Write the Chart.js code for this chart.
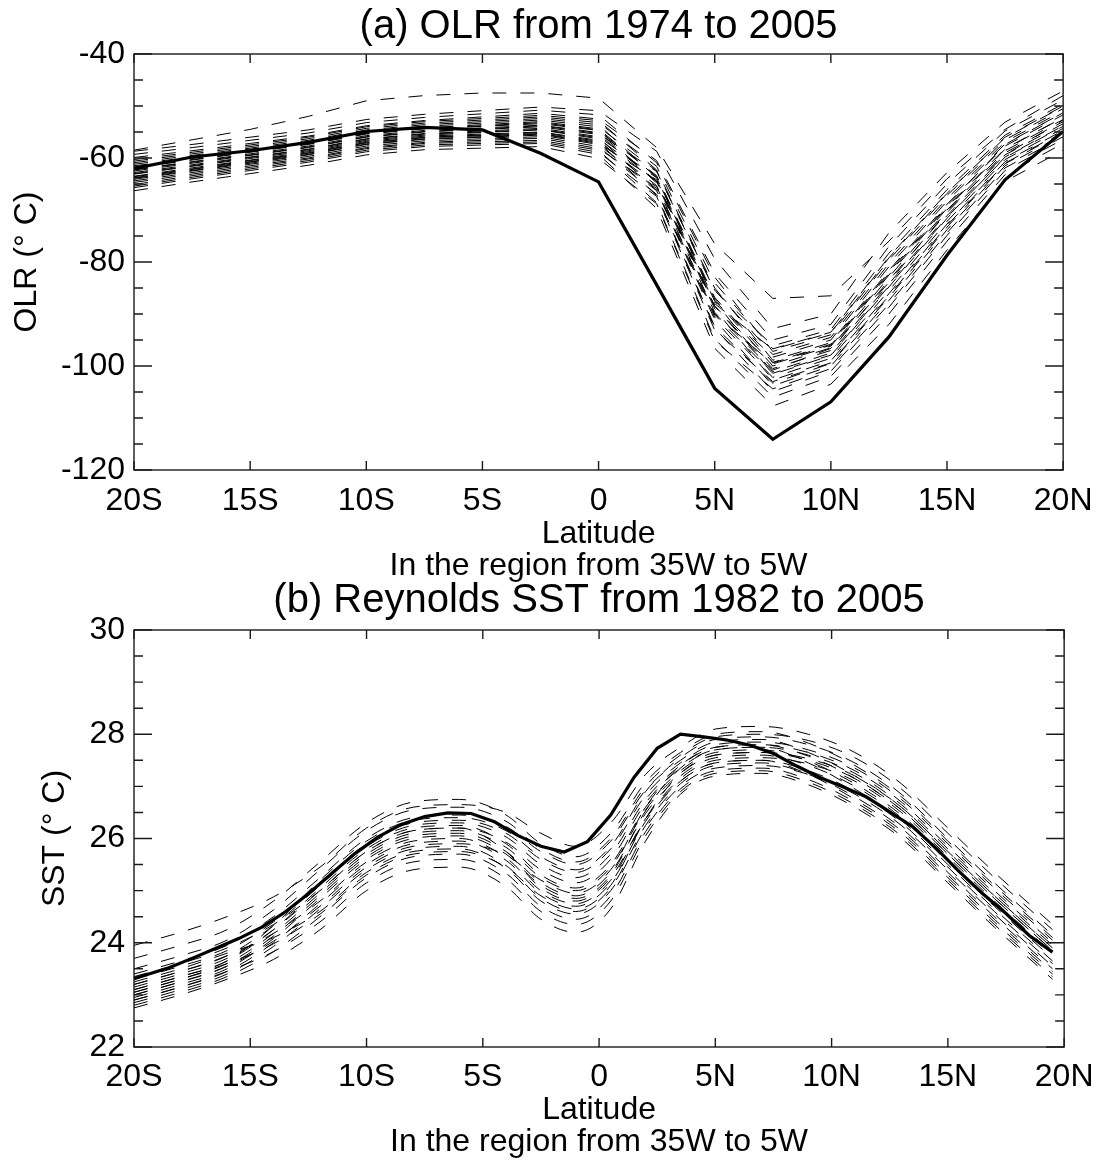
<!DOCTYPE html>
<html>
<head>
<meta charset="utf-8">
<script src="https://cdn.jsdelivr.net/npm/chart.js@4.4.1/dist/chart.umd.min.js"></script>
<style>
  html, body { margin: 0; padding: 0; background: #fff; }
  #wrap { position: relative; width: 1104px; height: 1162px; }
  canvas { position: absolute; left: 0; }
  #olrCanvas { top: 0; }
  #sstCanvas { top: 577px; }
</style>
</head>
<body>
<div id="wrap">
  <canvas id="olrCanvas" width="1104" height="582"></canvas>
  <canvas id="sstCanvas" width="1104" height="585"></canvas>
</div>
<script>
// latitude axis, shared by both panels
const xTickValues = [-20, -15, -10, -5, 0, 5, 10, 15, 20];
const xTickLabels = ['20S', '15S', '10S', '5S', '0', '5N', '10N', '15N', '20N'];

// (a) OLR, 2.5 degree grid
const olrLat = [-20, -17.5, -15, -12.5, -10, -7.5, -5, -2.5, 0, 2.5, 5, 7.5, 10, 12.5, 15, 17.5, 20];
const olrTicks = [-120, -100, -80, -60, -40];
// thick line
const olrMean = [-62.0, -59.8, -58.6, -57.0, -54.9, -54.1, -54.6, -59.1, -64.6, -84.4, -104.3, -114.1, -106.9, -94.4, -78.7, -64.2, -54.9];
// dashed lines, one per year
const olrYearly = [
  [-58.5,-56.5,-54.5,-52.0,-49.0,-48.0,-47.5,-47.5,-48.5,-58.0,-76.5,-87.0,-86.5,-76.0,-64.0,-54.5,-48.0],
  [-58.7,-57.4,-56.0,-54.6,-52.6,-51.6,-50.9,-50.2,-50.9,-58.7,-79.4,-92.8,-90.0,-74.4,-62.8,-53.1,-47.1],
  [-59.3,-58.0,-56.6,-55.2,-53.2,-52.2,-51.5,-50.8,-51.7,-60.9,-82.9,-97.2,-94.0,-79.6,-67.2,-56.5,-50.5],
  [-59.9,-58.6,-57.2,-55.8,-53.8,-52.8,-52.1,-51.4,-52.5,-60.5,-82.2,-95.0,-92.0,-77.0,-65.0,-54.8,-48.8],
  [-60.3,-58.9,-57.5,-56.0,-54.0,-53.0,-52.4,-51.8,-52.8,-62.3,-85.0,-98.9,-95.5,-81.6,-68.9,-57.7,-51.7],
  [-60.6,-59.2,-57.8,-56.3,-54.3,-53.3,-52.7,-52.1,-53.2,-61.6,-84.0,-96.7,-93.5,-79.0,-66.7,-56.1,-50.1],
  [-60.9,-59.5,-58.1,-56.6,-54.6,-53.6,-53.0,-52.4,-53.6,-63.8,-87.5,-101.6,-98.0,-84.8,-71.6,-59.8,-53.8],
  [-61.2,-59.8,-58.3,-56.9,-54.9,-53.9,-53.3,-52.7,-54.0,-62.5,-85.4,-97.8,-94.5,-80.3,-67.8,-56.9,-50.9],
  [-61.5,-60.1,-58.6,-57.2,-55.2,-54.2,-53.6,-53.0,-54.4,-63.6,-87.1,-100.0,-96.5,-82.9,-70.0,-58.6,-52.6],
  [-61.7,-60.3,-58.8,-57.3,-55.3,-54.3,-53.8,-53.2,-54.6,-64.8,-89.0,-102.7,-99.0,-86.1,-72.7,-60.7,-54.7],
  [-61.9,-60.4,-58.9,-57.4,-55.4,-54.4,-53.9,-53.4,-54.7,-63.4,-86.8,-99.3,-95.8,-81.9,-69.2,-57.4,-51.3],
  [-62.2,-60.7,-59.2,-57.7,-55.7,-54.7,-54.2,-53.7,-55.1,-64.5,-88.5,-101.1,-97.5,-84.2,-71.1,-59.4,-53.4],
  [-62.3,-60.8,-59.4,-57.9,-55.9,-54.9,-54.4,-53.8,-55.3,-62.6,-85.5,-96.1,-93.0,-78.3,-66.1,-55.6,-49.6],
  [-62.5,-61.0,-59.5,-58.0,-56.0,-55.0,-54.5,-54.0,-55.5,-64.5,-88.5,-100.5,-97.0,-83.5,-70.5,-59.0,-53.0],
  [-62.8,-61.3,-59.8,-58.3,-56.3,-55.3,-54.8,-54.3,-55.9,-63.8,-87.5,-98.3,-95.0,-80.9,-68.3,-57.3,-51.3],
  [-63.0,-61.5,-59.9,-58.4,-56.4,-55.4,-55.0,-54.5,-56.1,-66.2,-91.1,-103.8,-100.0,-87.4,-73.8,-61.5,-55.5],
  [-63.1,-61.6,-60.1,-58.6,-56.6,-55.6,-55.1,-54.6,-56.3,-64.5,-88.5,-99.4,-96.0,-82.2,-69.4,-58.2,-52.2],
  [-63.5,-61.9,-60.4,-58.8,-56.8,-55.8,-55.4,-55.0,-56.6,-65.9,-90.6,-102.2,-98.5,-85.5,-72.2,-60.3,-54.3],
  [-63.6,-62.1,-60.5,-59.0,-57.0,-56.0,-55.6,-55.1,-56.8,-65.3,-89.7,-100.8,-96.6,-83.9,-70.2,-59.4,-52.7],
  [-63.8,-62.2,-60.7,-59.1,-57.1,-56.1,-55.7,-55.3,-57.0,-67.2,-92.7,-104.9,-101.0,-88.7,-74.9,-62.4,-56.4],
  [-64.1,-62.5,-61.0,-59.4,-57.4,-56.4,-56.0,-55.6,-57.4,-66.3,-90.2,-101.4,-97.9,-84.6,-71.4,-59.9,-53.9],
  [-64.4,-62.8,-61.2,-59.7,-57.7,-56.7,-56.3,-55.9,-57.8,-67.0,-92.4,-103.3,-99.5,-86.8,-73.3,-61.1,-55.1],
  [-64.7,-63.1,-61.5,-60.0,-58.0,-57.0,-56.6,-56.2,-58.2,-65.5,-90.0,-99.6,-96.2,-82.5,-69.7,-58.3,-52.2],
  [-65.1,-63.4,-61.8,-60.2,-58.2,-57.2,-56.9,-56.6,-58.5,-68.6,-94.8,-106.0,-102.0,-90.0,-76.0,-63.2,-57.2],
  [-65.4,-63.7,-62.1,-60.5,-58.5,-57.5,-57.2,-56.9,-58.9,-67.4,-93.1,-103.0,-99.4,-86.5,-73.0,-61.0,-54.9],
  [-65.7,-64.0,-62.4,-60.8,-58.8,-57.8,-57.5,-57.2,-59.3,-69.7,-96.6,-107.7,-103.5,-92.0,-77.7,-64.5,-58.5],
  [-66.3,-64.6,-63.0,-61.4,-59.4,-58.4,-58.1,-57.8,-60.1,-68.8,-95.2,-104.4,-100.5,-88.1,-74.4,-61.9,-55.9],
  [-63.9,-62.4,-60.8,-59.3,-57.3,-56.3,-55.9,-55.4,-57.2,-64.2,-88.0,-96.8,-93.6,-79.2,-66.8,-56.0,-50.0]
];

// (b) Reynolds SST
const sstTicks = [22, 24, 26, 28, 30];
const sstLat = [-20, -19.5, -18.5, -17.5, -16.5, -15.5, -14.5, -13.5, -12.5, -11.5, -10.5, -9.5, -8.5, -7.5, -6.5, -5.5, -4.5, -3.5, -2.5, -1.5, -0.5,
  0.5, 1.5, 2.5, 3.5, 4.5, 5.5, 6.5, 7.5, 8.5, 9.5, 10.5, 11.5, 12.5, 13.5, 14.5, 15.5, 16.5, 17.5, 18.5, 19.5];
const sstMean = [23.31, 23.38, 23.52, 23.70, 23.89, 24.08, 24.30, 24.59, 24.94, 25.33, 25.71, 26.03, 26.27, 26.42, 26.49, 26.48, 26.32, 26.06, 25.85, 25.74, 25.94,
  26.45, 27.17, 27.73, 28.00, 27.95, 27.89, 27.79, 27.63, 27.39, 27.17, 26.99, 26.80, 26.51, 26.22, 25.81, 25.36, 24.94, 24.56, 24.14, 23.82];
const sstYearLat = [-20, -18, -16, -14, -12, -10, -8, -6, -4, -2.5, -1, 0.5, 2, 3.5, 5, 7, 9, 11, 13, 15, 17, 19.5];
const sstYearly = [
  [23.95,24.2,24.5,24.88,25.45,26.2,26.6,26.65,26.5,26.1,25.85,26.3,27.23,27.75,28.1,28.15,28.0,27.65,27.05,26.2,25.35,24.35],
  [23.7,23.95,24.25,24.8,25.55,26.3,26.7,26.75,26.45,25.9,25.65,26.1,27.08,27.65,28.0,28.05,27.83,27.4,26.8,25.95,25.1,24.1],
  [23.5,23.75,24.05,24.63,25.4,26.15,26.55,26.6,26.33,25.8,25.55,26.0,27.0,27.6,27.95,28.0,27.88,27.55,26.95,26.1,25.25,24.25],
  [23.4,23.65,23.95,24.5,25.25,26.0,26.4,26.45,26.23,25.75,25.5,25.95,26.93,27.5,27.85,27.9,27.65,27.2,26.6,25.75,24.9,23.9],
  [23.3,23.55,23.85,24.4,25.15,25.9,26.3,26.35,26.1,25.6,25.35,25.8,26.83,27.45,27.8,27.85,27.7,27.35,26.75,25.9,25.05,24.05],
  [23.2,23.45,23.75,24.33,25.1,25.85,26.25,26.3,26.03,25.5,25.25,25.7,26.75,27.4,27.75,27.8,27.58,27.15,26.55,25.7,24.85,23.85],
  [23.15,23.4,23.7,24.25,25.0,25.75,26.15,26.2,25.93,25.4,25.15,25.6,26.68,27.35,27.7,27.75,27.6,27.25,26.65,25.8,24.95,23.95],
  [23.1,23.35,23.65,24.25,25.05,25.8,26.2,26.25,25.9,25.3,25.05,25.5,26.6,27.3,27.65,27.7,27.48,27.05,26.45,25.6,24.75,23.75],
  [23.05,23.3,23.6,24.18,24.95,25.7,26.1,26.15,25.83,25.25,25.0,25.45,26.55,27.25,27.6,27.65,27.53,27.2,26.6,25.75,24.9,23.9],
  [23.0,23.25,23.55,24.13,24.9,25.65,26.05,26.1,25.75,25.15,24.9,25.35,26.48,27.2,27.55,27.6,27.4,27.0,26.4,25.55,24.7,23.7],
  [22.95,23.2,23.5,24.08,24.85,25.6,26.0,26.05,25.7,25.1,24.85,25.3,26.53,27.35,27.7,27.75,27.45,26.95,26.35,25.5,24.65,23.65],
  [23.2,23.45,23.75,24.18,24.8,25.55,25.95,26.0,25.63,25.0,24.75,25.2,26.38,27.15,27.5,27.55,27.43,27.1,26.5,25.65,24.8,23.8],
  [22.9,23.15,23.45,24.0,24.75,25.5,25.9,25.95,25.58,24.95,24.7,25.15,26.33,27.1,27.45,27.5,27.3,26.9,26.3,25.45,24.6,23.6],
  [22.85,23.1,23.4,23.93,24.65,25.4,25.8,25.85,25.48,24.85,24.6,25.05,26.25,27.05,27.4,27.45,27.23,26.8,26.2,25.35,24.5,23.5],
  [23.25,23.5,23.8,24.1,24.6,25.35,25.75,25.8,25.43,24.8,24.55,25.0,26.2,27.0,27.35,27.4,27.23,26.85,26.25,25.4,24.55,23.55],
  [22.8,23.05,23.35,23.83,24.5,25.25,25.65,25.7,25.33,24.7,24.45,24.9,26.13,26.95,27.3,27.35,27.13,26.7,26.1,25.25,24.4,23.4],
  [22.9,23.15,23.45,23.83,24.4,25.15,25.55,25.6,25.23,24.6,24.35,24.8,26.05,26.9,27.25,27.3,27.08,26.65,26.05,25.2,24.35,23.35],
  [22.75,23.0,23.3,23.68,24.25,25.0,25.4,25.45,25.08,24.45,24.2,24.65,25.95,26.85,27.2,27.25,27.03,26.6,26.0,25.15,24.3,23.3],
  [23.1,23.35,23.65,24.33,25.2,25.95,26.35,26.4,26.15,25.65,25.4,25.85,26.9,27.55,27.9,27.95,27.8,27.45,26.85,26.0,25.15,24.15],
  [23.0,23.25,23.55,24.03,24.7,25.45,25.85,25.9,25.68,25.2,24.95,25.4,26.6,27.4,27.75,27.8,27.65,27.3,26.7,25.85,25.0,24.0],
  [23.35,23.6,23.9,24.35,25.0,25.75,26.15,26.2,25.75,25.05,24.8,25.25,26.38,27.1,27.45,27.5,27.23,26.75,26.15,25.3,24.45,23.45],
  [23.05,23.3,23.6,23.98,24.55,25.3,25.7,25.75,25.45,24.9,24.65,25.1,26.38,27.25,27.6,27.65,27.5,27.15,26.55,25.7,24.85,23.85]
];

Chart.defaults.font.family = "'Liberation Sans', Arial, sans-serif";
Chart.defaults.color = '#000';

// box around the plot with inward ticks (majors from the axis ticks, minors every minorStep)
const frameTicks = {
  id: 'frameTicks',
  afterDatasetsDraw(chart, args, opts) {
    const ctx = chart.ctx;
    const a = chart.chartArea;
    const x = chart.scales.x, y = chart.scales.y;
    ctx.save();
    ctx.strokeStyle = '#1a1a1a';
    ctx.lineWidth = 1.4;
    ctx.strokeRect(a.left, a.top, a.right - a.left, a.bottom - a.top);
    ctx.beginPath();
    x.ticks.forEach(t => {
      const px = x.getPixelForValue(t.value);
      ctx.moveTo(px, a.bottom); ctx.lineTo(px, a.bottom - 9);
      ctx.moveTo(px, a.top); ctx.lineTo(px, a.top + 9);
    });
    const majors = y.ticks.map(t => t.value);
    for (let v = y.min; v <= y.max + 1e-6; v += opts.minorStep) {
      const py = y.getPixelForValue(v);
      const len = majors.some(m => Math.abs(m - v) < 1e-6) ? 18 : 9;
      ctx.moveTo(a.left, py); ctx.lineTo(a.left + len, py);
      ctx.moveTo(a.right, py); ctx.lineTo(a.right - len, py);
    }
    ctx.stroke();
    ctx.restore();
  }
};

function toPoints(lats, vals) {
  return lats.map((lat, i) => ({x: lat, y: vals[i]}));
}

function makePanel(id, p) {
  const datasets = [{
    data: toPoints(p.lat, p.mean),
    borderColor: '#000',
    borderWidth: 3.2,
    pointRadius: 0,
    tension: 0
  }];
  p.yearly.forEach(row => {
    datasets.push({
      data: toPoints(p.yearLat, row),
      borderColor: '#000',
      borderWidth: 1,
      borderDash: [14, 14],
      pointRadius: 0,
      cubicInterpolationMode: p.smooth ? 'monotone' : 'default',
      tension: 0
    });
  });

  return new Chart(document.getElementById(id), {
    type: 'line',
    data: {datasets: datasets},
    plugins: [frameTicks],
    options: {
      responsive: false,
      animation: false,
      events: [],
      layout: {padding: {left: 0, right: 35, top: 0, bottom: 0}},
      plugins: {
        legend: {display: false},
        tooltip: {enabled: false},
        title: {
          display: true,
          text: p.title,
          fullSize: false,
          font: {size: 40, weight: 'normal', lineHeight: 1.2},
          padding: p.titlePad,
          color: '#000'
        },
        frameTicks: {minorStep: p.minorStep}
      },
      scales: {
        x: {
          type: 'linear',
          min: -20,
          max: 20,
          grid: {display: false, drawTicks: false},
          border: {display: false},
          afterBuildTicks: s => { s.ticks = xTickValues.map(v => ({value: v})); },
          afterFit: s => { s.height = p.xHeight; },
          ticks: {
            font: {size: 32},
            padding: p.xTickPad,
            maxRotation: 0,
            autoSkip: false,
            callback: (v, i) => xTickLabels[i]
          },
          title: {
            display: true,
            text: ['Latitude', 'In the region from 35W to 5W'],
            font: {size: 32, lineHeight: 1},
            padding: {top: 0, bottom: p.xTitlePad}
          }
        },
        y: {
          min: p.yTicks[0],
          max: p.yTicks[p.yTicks.length - 1],
          grid: {display: false, drawTicks: false},
          border: {display: false},
          afterBuildTicks: s => { s.ticks = p.yTicks.map(v => ({value: v})); },
          afterFit: s => { s.width = 134; },
          ticks: {
            font: {size: 32},
            padding: 9,
            callback: v => String(v)
          },
          title: {
            display: true,
            text: p.yTitle,
            font: {size: 32, lineHeight: 1.2},
            padding: {top: p.yTitlePad, bottom: 0}
          }
        }
      }
    }
  });
}

makePanel('olrCanvas', {
  title: '(a) OLR from 1974 to 2005',
  titlePad: {top: 2.5, bottom: 3.5},
  lat: olrLat, mean: olrMean,
  yearLat: olrLat, yearly: olrYearly, smooth: false,
  yTicks: olrTicks, minorStep: 5,
  yTitle: 'OLR (° C)', yTitlePad: 7.8,
  xHeight: 112, xTickPad: 11.5, xTitlePad: 0
});

makePanel('sstCanvas', {
  title: '(b) Reynolds SST from 1982 to 2005',
  titlePad: {top: 0, bottom: 5},
  lat: sstLat, mean: sstMean,
  yearLat: sstYearLat, yearly: sstYearly, smooth: true,
  yTicks: sstTicks, minorStep: 0.5,
  yTitle: 'SST (° C)', yTitlePad: 35.8,
  xHeight: 115, xTickPad: 10.5, xTitlePad: 4
});
</script>
</body>
</html>
